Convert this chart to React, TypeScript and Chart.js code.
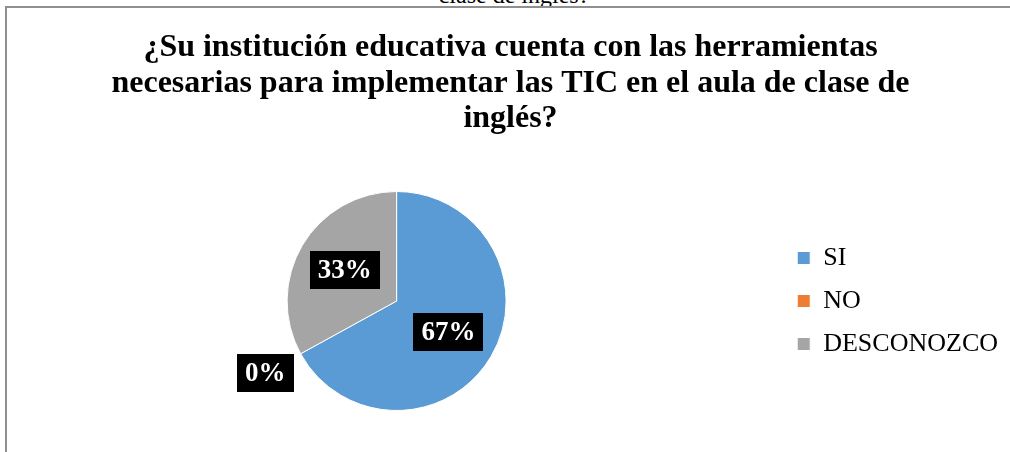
import React, { useEffect, useRef } from "react";
import { Chart, registerables } from "chart.js";

Chart.register(...registerables);

const categories: string[] = ["SI", "NO", "DESCONOZCO"];
const values: number[] = [67, 0, 33];
const colors: string[] = ["#5B9BD5", "#ED7D31", "#A5A5A5"];
const titleLines: string[] = [
  "¿Su institución educativa cuenta con las herramientas",
  "necesarias para implementar las TIC en el aula de clase de",
  "inglés?",
];
const captionAbove = "clase de inglés?";

const SERIF = '"Liberation Serif", "Times New Roman", serif';

const pctLabels = {
  id: "pctLabels",
  afterDatasetsDraw(chart: any) {
    const ctx = chart.ctx as CanvasRenderingContext2D;
    const meta = chart.getDatasetMeta(0);
    const data = chart.data.datasets[0].data as number[];
    const total = data.reduce((a, b) => a + b, 0);
    ctx.save();
    ctx.font = `bold 27px ${SERIF}`;
    ctx.textAlign = "center";
    ctx.textBaseline = "middle";
    meta.data.forEach((arc: any, i: number) => {
      const p = arc.getProps(["x", "y", "startAngle", "endAngle", "outerRadius"], true);
      const mid = (p.startAngle + p.endAngle) / 2;
      const v = data[i];
      const f = v === 0 ? 1.37 : 0.55;
      const cx = p.x + Math.cos(mid) * p.outerRadius * f;
      const cy = p.y + Math.sin(mid) * p.outerRadius * f;
      const text = Math.round((v / total) * 100) + "%";
      const w = ctx.measureText(text).width + 16;
      const h = 38;
      ctx.fillStyle = "#000";
      ctx.fillRect(Math.round(cx - w / 2), Math.round(cy - h / 2), Math.round(w), h);
      ctx.fillStyle = "#fff";
      ctx.fillText(text, cx, cy + 1);
    });
    ctx.restore();
  },
};

export default function App() {
  const ref = useRef<HTMLCanvasElement | null>(null);
  useEffect(() => {
    if (!ref.current) return;
    const chart = new Chart(ref.current, {
      type: "pie",
      data: {
        labels: categories,
        datasets: [
          {
            data: values,
            backgroundColor: colors,
            borderColor: "#ffffff",
            borderWidth: 1,
          },
        ],
      },
      options: {
        responsive: false,
        animation: false,
        layout: { padding: { left: 13, right: 2, top: 0, bottom: 41 } },
        plugins: {
          tooltip: { enabled: false },
          title: {
            display: true,
            text: titleLines,
            color: "#000",
            font: { family: SERIF, size: 32, weight: "bold", lineHeight: "35.5px" } as any,
            padding: { top: 30, bottom: 54.5 },
          },
          legend: {
            position: "right",
            fullSize: false,
            labels: {
              boxWidth: 13,
              boxHeight: 13,
              padding: 17,
              color: "#000",
              font: { family: SERIF, size: 26 },
            },
          },
        },
      },
      plugins: [pctLabels],
    });
    return () => chart.destroy();
  }, []);

  return (
    <div
      style={{
        position: "absolute",
        left: 0,
        top: 0,
        width: 1010,
        height: 452,
        overflow: "hidden",
        background: "#fff",
      }}
    >
      <div
        style={{
          position: "absolute",
          left: 0,
          width: 1028,
          top: -17,
          textAlign: "center",
          fontFamily: SERIF,
          fontSize: 24,
          lineHeight: "24px",
          color: "#000",
          whiteSpace: "nowrap",
        }}
      >
        {captionAbove}
      </div>
      <div
        style={{
          position: "absolute",
          left: 5,
          top: 6,
          width: 1020,
          height: 460,
          borderLeft: "2px solid #8f8f8f",
          borderTop: "2px solid #8f8f8f",
          boxSizing: "border-box",
        }}
      />
      <canvas
        ref={ref}
        width={1010}
        height={452}
        style={{ position: "absolute", left: 0, top: 0, width: 1010, height: 452 }}
      />
    </div>
  );
}
